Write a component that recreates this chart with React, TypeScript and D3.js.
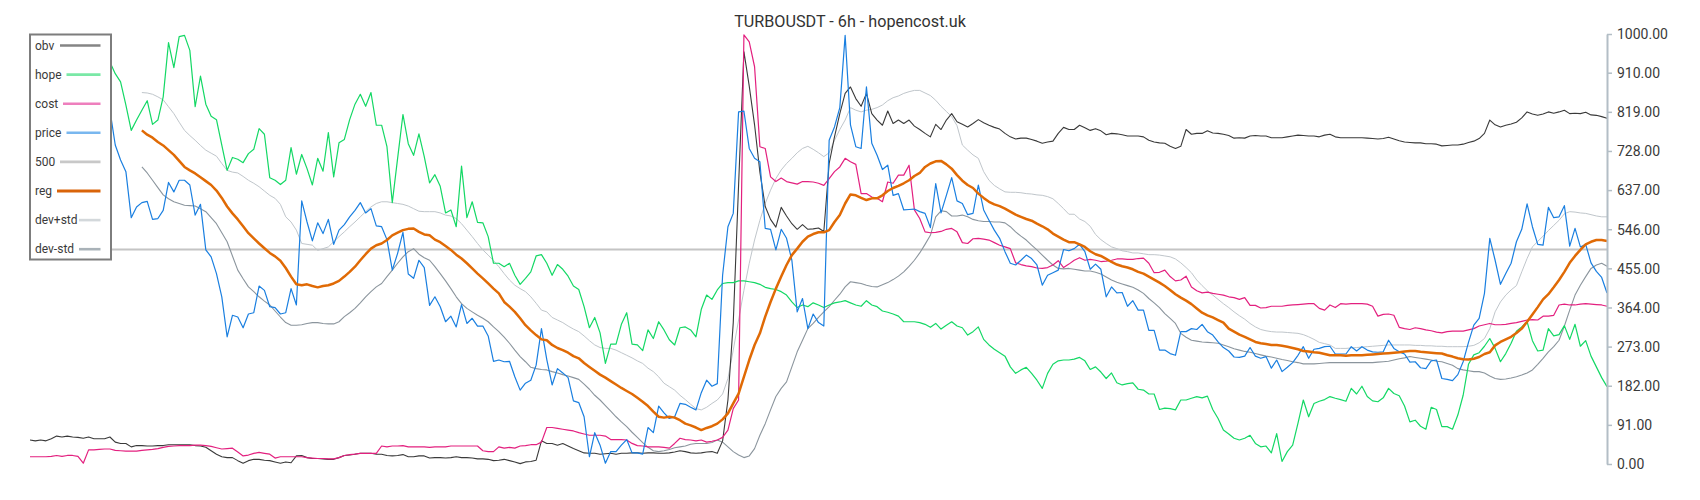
import React from 'react';
import * as d3 from 'd3';

const N = 297;

const obv = [
57,55,57,55,60,66,64,66,64,63,61,64,60,60,60,64,52,49,49,41,44,44,43,43,44,44,46,46,46,46,46,44,43,40,32,24,18,16,16,9,3,9,12,12,10,9,6,3,6,
4,20,21,16,14,14,13,12,12,16,21,22,24,26,26,26,24,24,21,20,21,23,18,18,20,20,15,16,16,15,16,18,16,16,15,13,13,12,9,10,12,9,6,2,6,7,10,55,49,
49,45,49,43,37,32,27,26,26,24,25,26,24,26,26,27,27,26,27,27,26,26,27,29,32,30,27,26,27,29,30,26,55,150,330,650,960,880,790,680,600,570,552,598,578,560,547,558,547,
548,550,542,700,762,816,863,878,851,833,863,816,801,789,822,793,801,793,801,787,779,770,762,791,779,801,816,797,791,785,793,802,795,789,784,780,770,762,757,759,759,756,752,747,750,752,770,784,779,
779,789,783,777,781,776,767,770,769,767,764,764,764,762,754,750,748,747,740,735,740,779,768,770,770,776,771,770,768,765,759,760,759,764,765,764,764,760,760,760,762,764,766,765,764,764,762,766,768,
762,760,760,760,760,760,759,758,757,758,761,757,753,750,749,748,748,746,746,745,741,742,743,743,745,749,752,758,770,801,790,785,789,792,796,806,820,815,812,815,820,817,820,824,816,817,816,819,813,812,809,805
];

const hope = [
null,null,null,null,null,null,null,null,null,null,null,null,null,null,null,
936,909,890,836,777,801,824,846,791,801,855,981,923,995,998,963,832,903,838,810,802,743,684,714,710,702,723,733,781,768,667,661,651,661,
737,675,721,688,650,712,682,772,669,748,756,802,838,861,833,865,789,789,739,609,712,814,746,719,769,716,655,674,647,585,592,553,694,574,611,563,562,530,468,468,460,468,440,419,433,448,485,488,468,
440,465,454,438,415,407,367,318,342,306,235,280,280,326,353,280,278,265,313,293,332,313,290,278,318,320,313,297,361,394,384,406,421,423,423,427,427,425,423,419,412,409,407,402,394,378,365,371,367,
376,371,365,371,376,378,381,376,371,368,381,371,367,357,354,350,345,332,332,332,330,326,319,328,315,324,332,322,318,301,309,320,291,278,268,260,252,227,212,220,226,212,196,177,212,233,241,243,243,
245,249,241,221,227,215,200,213,190,185,188,190,175,173,164,164,128,131,130,127,150,150,154,158,155,159,128,107,80,71,61,57,61,68,49,41,43,27,72,7,30,45,96,150,111,142,147,151,158,
154,151,147,177,164,182,158,148,146,155,177,165,160,136,99,103,89,82,133,128,88,88,82,115,161,233,255,260,275,293,270,239,258,282,310,320,332,288,264,266,316,299,302,323,291,326,275,288,252,227,202,181
];

const cost = [
18,18,18,18,19,21,19,21,21,19,3,34,34,35,36,36,33,32,31,31,31,33,34,35,37,40,42,43,44,44,44,45,45,44,42,39,36,37,38,29,20,22,26,28,26,24,15,18,18,
18,18,18,16,15,14,14,13,13,16,21,23,24,26,26,26,26,43,41,43,43,44,41,41,41,41,40,41,41,41,43,43,43,43,43,43,32,30,30,41,38,40,38,43,44,46,46,52,86,
86,84,82,80,78,74,71,68,68,68,66,58,58,58,57,49,44,43,41,41,41,40,38,49,61,58,57,55,57,52,54,57,63,80,130,150,999,983,925,739,735,669,658,666,658,655,652,658,658,
657,654,649,665,681,692,712,704,698,630,630,622,619,611,657,654,673,673,696,592,572,541,539,540,542,547,549,541,516,514,525,526,524,522,516,510,506,502,469,465,462,460,457,456,458,464,474,458,466,
475,481,475,477,475,472,473,475,478,478,477,477,479,480,468,446,447,452,437,427,429,438,413,404,399,401,398,396,394,390,388,384,388,370,370,364,365,368,368,368,370,371,372,373,374,374,363,359,371,
365,374,373,374,374,374,373,368,345,349,350,347,319,316,314,318,316,313,311,308,306,309,310,310,310,313,316,322,325,328,325,325,326,328,330,333,336,337,336,345,345,347,371,373,371,371,373,374,373,372,371,368
];

const price = [
null,null,null,null,null,null,null,null,null,null,null,null,null,null,null,
824,743,708,681,574,599,609,612,570,572,591,656,634,661,661,650,580,605,499,483,444,390,297,347,343,318,350,353,415,405,367,365,350,353,
409,371,613,564,520,562,537,570,512,545,558,576,591,609,585,595,555,553,523,452,491,540,443,433,475,458,370,390,367,332,345,320,372,328,340,322,322,299,240,243,239,240,204,173,189,196,231,316,244,
185,223,213,202,148,144,111,18,74,45,3,30,30,45,58,27,27,24,86,74,136,120,107,111,142,140,133,127,167,196,182,188,440,553,584,820,822,735,712,704,549,547,499,547,526,475,355,386,316,
350,330,322,754,785,830,998,790,739,735,878,747,719,686,696,626,630,592,593,594,588,584,551,653,585,626,667,613,607,581,584,650,592,568,545,526,495,468,464,475,487,479,464,417,440,446,452,500,497,
502,512,495,454,466,454,390,413,399,400,368,381,359,359,312,312,266,266,258,254,309,309,316,314,326,309,301,285,272,264,250,249,252,272,252,247,251,224,243,216,226,237,254,274,247,268,270,274,275,
257,257,257,274,264,274,266,262,261,262,289,270,262,257,238,239,225,223,241,243,200,198,195,209,239,284,324,340,398,526,475,419,444,468,518,547,606,553,512,510,598,574,576,602,508,549,506,512,469,449,435,399
];

const reg = [
null,null,null,null,null,null,null,null,null,null,null,null,null,null,null,null,null,null,null,null,null,
777,767,760,750,742,731,720,706,692,684,677,668,659,650,637,620,600,584,570,554,538,526,514,503,492,484,474,457,
437,419,417,419,415,412,415,417,421,427,437,448,460,475,489,502,510,514,522,533,539,545,548,549,541,535,533,523,517,508,499,488,479,468,456,444,433,421,409,398,378,367,355,340,324,312,301,291,289,
278,271,266,260,252,247,236,227,218,209,202,194,186,178,171,164,155,146,136,123,111,109,111,109,103,95,91,86,80,85,89,95,105,119,142,165,204,243,278,305,344,378,409,437,464,487,502,518,530,
536,540,540,545,564,580,607,628,626,620,615,619,619,626,636,643,648,654,661,671,678,692,700,705,706,698,688,673,660,650,643,630,620,611,605,601,595,588,581,576,571,567,560,554,547,537,530,523,517,
517,512,506,496,489,485,478,471,465,461,458,454,448,444,437,430,423,415,406,396,388,381,373,363,353,347,342,336,330,316,309,302,297,291,285,282,280,278,278,276,274,271,268,264,263,261,260,257,254,
254,254,253,254,254,254,255,256,257,258,259,260,261,263,264,264,262,261,260,259,258,254,251,247,245,244,246,250,257,261,277,285,291,297,306,316,332,349,366,384,396,412,429,448,469,485,499,512,518,522,522,520
];

const devPlus = [
null,null,null,null,null,null,null,null,null,null,null,null,null,null,null,null,null,null,null,null,null,
865,864,861,855,848,832,816,796,777,765,754,742,731,724,717,700,684,680,678,670,661,654,646,636,626,619,605,576,
564,545,514,512,510,498,502,506,518,530,541,553,564,576,588,599,607,611,611,609,607,605,601,595,589,588,588,588,585,580,578,572,560,545,530,514,499,487,474,460,444,429,417,409,402,390,375,359,355,
342,336,330,322,315,309,299,288,278,272,270,270,266,260,254,248,241,235,224,216,204,189,181,173,161,151,140,130,127,133,142,150,164,200,266,336,405,468,522,568,607,638,665,685,700,712,725,735,740,
733,725,716,725,754,779,801,830,824,820,824,826,830,836,846,853,857,863,867,870,870,864,858,847,833,821,809,788,743,731,720,712,681,661,649,641,634,633,633,632,630,629,627,626,623,618,607,595,582,
582,571,565,554,535,523,514,506,502,497,495,492,492,490,488,488,487,485,483,478,469,458,446,429,416,404,394,384,374,365,355,346,338,328,320,314,311,309,308,308,307,306,305,302,297,291,284,281,278,
270,270,270,271,272,273,274,275,276,277,278,278,278,278,278,277,277,276,276,275,275,274,274,274,274,275,277,283,293,316,355,378,394,406,416,448,479,506,519,531,544,556,568,583,588,587,585,584,581,578,576,576
];

const devMinus = [
null,null,null,null,null,null,null,null,null,null,null,null,null,null,null,null,null,null,null,null,null,
692,678,661,644,627,618,611,607,603,602,601,595,588,574,560,539,518,485,452,432,413,402,390,380,371,357,343,330,
324,324,325,328,330,330,328,327,327,332,344,353,363,376,390,402,413,421,437,452,468,483,495,502,489,481,475,460,444,427,409,390,374,363,355,347,340,332,320,309,296,282,266,251,239,226,223,221,220,
216,213,209,206,202,198,187,175,161,150,137,124,111,99,88,75,63,51,40,32,30,32,35,39,41,43,47,49,49,49,51,57,52,41,30,22,16,20,37,68,95,127,158,177,192,227,262,289,316,
328,342,355,367,382,396,413,425,423,421,417,414,413,418,423,430,438,448,461,475,492,512,533,576,590,588,578,578,580,576,570,567,565,565,564,564,562,553,541,531,522,510,499,487,475,464,456,455,456,
454,452,450,450,447,443,436,429,424,420,416,412,406,398,386,376,365,351,340,328,305,296,289,287,285,284,283,282,278,274,269,266,263,261,258,255,252,250,247,244,242,239,237,234,234,234,235,236,237,
237,237,237,237,237,237,237,237,238,239,240,243,246,248,251,249,247,245,243,240,239,235,231,223,220,218,216,216,213,206,200,198,199,201,204,208,213,220,233,247,262,274,289,322,359,394,417,437,456,464,468,461
];

const level = 500;
const yTicks = [0, 91, 182, 273, 364, 455, 546, 637, 728, 819, 910, 1000];
const title = 'TURBOUSDT - 6h - hopencost.uk';
const legendLabels = ['obv', 'hope', 'cost', 'price', '500', 'reg', 'dev+std', 'dev-std'];

const LEFT = 30;
const RIGHT = 1607;
const TOP = 34.5;
const BOTTOM = 464.5;

const styles: Record<string, { color: string; width: number; swatch: string; sw: number; start: number }> = {
  obv: { color: '#3a3a3a', width: 1.1, swatch: '#858585', sw: 2.6, start: 60 },
  hope: { color: '#14d865', width: 1.2, swatch: '#7ae8a6', sw: 2.6, start: 66.5 },
  cost: { color: '#e3207f', width: 1.2, swatch: '#ee7fbd', sw: 2.6, start: 63 },
  price: { color: '#1a7fe0', width: 1.2, swatch: '#79b7ef', sw: 2.6, start: 66.5 },
  '500': { color: '#c4c4c4', width: 2, swatch: '#c8c8c8', sw: 2.6, start: 60 },
  reg: { color: '#e06a05', width: 2.5, swatch: '#d9640a', sw: 3.2, start: 57 },
  'dev+std': { color: '#c0c6cb', width: 1, swatch: '#d3d8db', sw: 2.6, start: 79 },
  'dev-std': { color: '#8b959d', width: 1.1, swatch: '#a9b2b8', sw: 2.6, start: 79 },
};

export default function App() {
  const x = d3.scaleLinear().domain([0, N - 1]).range([LEFT, RIGHT]);
  const y = d3.scaleLinear().domain([0, 1000]).range([BOTTOM, TOP]);
  const line = d3
    .line<number | null>()
    .defined((d) => d != null)
    .x((_d, i) => x(i))
    .y((d) => y(d as number));

  const drawOrder: [string, (number | null)[]][] = [
    ['dev+std', devPlus],
    ['dev-std', devMinus],
    ['obv', obv],
    ['hope', hope],
    ['cost', cost],
    ['price', price],
    ['reg', reg],
  ];

  const legendY = (k: number) => 45.5 + k * 29.1;

  return (
    <svg
      width={1700}
      height={500}
      style={{ position: 'absolute', left: 0, top: 0, background: '#ffffff' }}
      fontFamily="Roboto, 'Noto Sans', sans-serif"
    >
      <rect x={0} y={0} width={1700} height={500} fill="#ffffff" />
      <text x={850} y={26.5} textAnchor="middle" fontSize={16.2} fill="#333">
        {title}
      </text>

      <line
        x1={x(0)}
        x2={x(N - 1)}
        y1={y(level)}
        y2={y(level)}
        stroke={styles['500'].color}
        strokeWidth={styles['500'].width}
      />

      {drawOrder.map(([name, data]) => (
        <path
          key={name}
          d={line(data) || ''}
          fill="none"
          stroke={styles[name].color}
          strokeWidth={styles[name].width}
          strokeLinejoin="round"
        />
      ))}

      <g>
        <line x1={RIGHT + 0.5} x2={RIGHT + 0.5} y1={y(1000)} y2={y(0)} stroke="#b3bec6" strokeWidth={2} />
        {yTicks.map((t) => (
          <g key={t}>
            <line x1={RIGHT} x2={RIGHT + 5} y1={y(t)} y2={y(t)} stroke="#b3bec6" strokeWidth={1.5} />
            <text x={RIGHT + 10} y={y(t)} dy="0.35em" fontSize={14} fill="#3a3a3a">
              {t.toFixed(2)}
            </text>
          </g>
        ))}
      </g>

      <g>
        <rect x={30} y={34.5} width={81} height={225} fill="#ffffff" stroke="#7d7d7d" strokeWidth={2} />
        {legendLabels.map((name, k) => (
          <g key={name}>
            <text x={35} y={legendY(k)} dy="0.35em" fontSize={12} fill="#3a3a3a">
              {name}
            </text>
            <line
              x1={styles[name].start}
              x2={100.5}
              y1={legendY(k)}
              y2={legendY(k)}
              stroke={styles[name].swatch}
              strokeWidth={styles[name].sw}
            />
          </g>
        ))}
      </g>
    </svg>
  );
}
